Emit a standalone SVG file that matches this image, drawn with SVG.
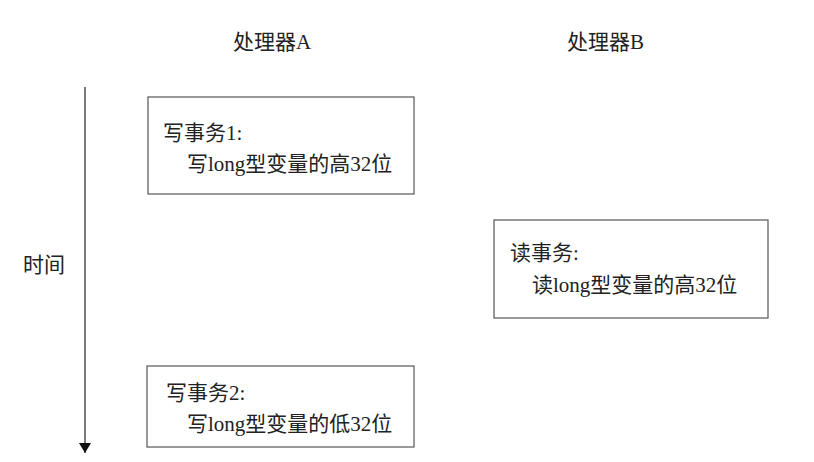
<svg xmlns="http://www.w3.org/2000/svg" width="814" height="462" viewBox="0 0 814 462">
<defs>
<style>
text{font-family:"Liberation Serif","Noto Sans CJK SC",serif;font-size:21px;fill:#222}
.box{fill:#fff;stroke:#555;stroke-width:1.2}
.line{stroke:#333;stroke-width:1.3;fill:none}
</style>
<marker id="arr" viewBox="0 0 10 12" refX="10" refY="6" markerWidth="10" markerHeight="12" markerUnits="userSpaceOnUse" orient="auto">
<path d="M0,0 L10,6 L0,12 Z" fill="#111"/>
</marker>
</defs>
<rect width="814" height="462" fill="#fff"/>
<g id="header-a"><text x="233" y="49">处理器A</text></g>
<g id="header-b"><text x="567" y="49">处理器B</text></g>
<g id="time-label"><text x="23" y="272">时间</text></g>
<g id="connectors">
<line class="line" x1="85" y1="87" x2="85" y2="453" marker-end="url(#arr)"/>
</g>
<g id="write1">
<rect class="box" x="148" y="97" width="266" height="97"/>
<text x="163" y="140">写事务1:</text>
<text x="187" y="171">写long型变量的高32位</text>
</g>
<g id="read">
<rect class="box" x="494" y="220" width="274" height="98"/>
<text x="510" y="260">读事务:</text>
<text x="532" y="292">读long型变量的高32位</text>
</g>
<g id="write2">
<rect class="box" x="147" y="366" width="267" height="81"/>
<text x="166" y="400">写事务2:</text>
<text x="187" y="431">写long型变量的低32位</text>
</g>
</svg>
